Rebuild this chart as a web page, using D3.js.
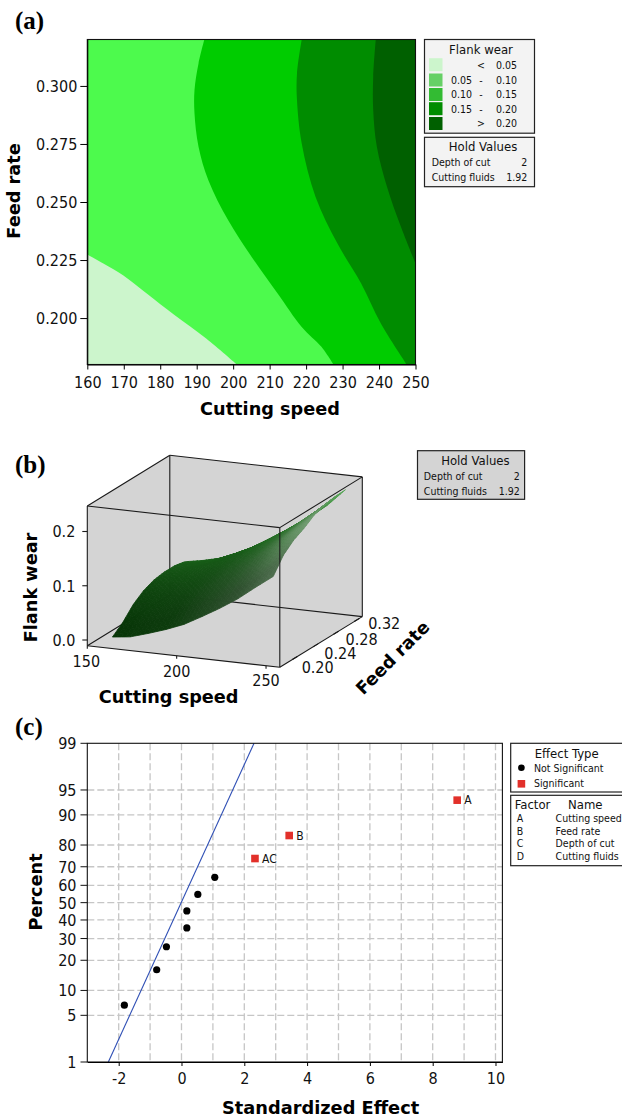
<!DOCTYPE html>
<html><head><meta charset="utf-8">
<script src="https://d3js.org/d3.v7.min.js"></script>
<style>
html,body{margin:0;padding:0;background:#fff}
svg{display:block}
text{font-family:"DejaVu Sans Condensed","DejaVu Sans";fill:#111}
.ttl{font-family:"DejaVu Sans";font-weight:700;fill:#000}
.pan{font-family:"Liberation Serif";font-weight:700;fill:#000}
.tick text{font-family:"DejaVu Sans Condensed","DejaVu Sans";font-size:16px;fill:#111}
</style></head><body>
<svg id="c" width="622" height="1117"></svg>
<script>
// ---------- panel (a): contour boundaries [cutting speed, feed rate]
const speedDomainA=[160,250], feedDomainA=[0.18,0.32];
const speedTicksA=[160,170,180,190,200,210,220,230,240,250];
const feedTicksA=[0.200,0.225,0.250,0.275,0.300];
const bandColors=["#ccf5cc","#4dfa4d","#00cc00","#008c00","#006000"];
const legendColors=["#ccf5cc","#66d066","#33bb33","#008c00","#006000"];
const legendLow=["","0.05","0.10","0.15",""];
const legendSep=["<","-","-","-",">"];
const legendHigh=["0.05","0.10","0.15","0.20","0.20"];
const boundary05=[[160,.2274],[164.4,.2235],[169.8,.2185],[176.3,.2106],[183.9,.2013],[192.6,.1912],[201,.18]];
const boundary10=[[192.1,.32],[190.5,.3097],[189.4,.2982],[189.4,.2881],[190.5,.2738],[193.2,.2594],[198.6,.2422],[205.7,.2249],[212.2,.2106],[218.8,.1962],[224.2,.1876],[227.5,.18]];
const boundary15=[[218.8,.32],[217.5,.3054],[217.5,.2939],[218.8,.2752],[222.6,.2522],[228.6,.2321],[235.1,.2149],[240.5,.1977],[247.6,.18]];
const boundary20=[[239.1,.32],[238.4,.3039],[238.4,.2896],[239.4,.2738],[242.2,.2565],[246,.2393],[250,.2235]];
// ---------- panel (b): surface, wear by feed rate (rows) and cutting speed (columns)
const surfSpeeds=[160,170,180,190,200,210,220,230,240,250];
const surfFeeds=[.32,.30,.28,.26,.24,.22,.20,.18];
const surfWear=[
[.058,.064,.072,.086,.102,.123,.144,.166,.192,.224],
[.062,.069,.078,.091,.106,.124,.145,.168,.194,.223],
[.062,.070,.080,.092,.106,.123,.143,.166,.192,.219],
[.059,.067,.077,.088,.102,.118,.137,.160,.186,.213],
[.051,.059,.069,.081,.095,.111,.129,.150,.175,.200],
[.037,.045,.056,.068,.082,.098,.116,.136,.161,.190],
[.016,.026,.038,.050,.064,.080,.098,.118,.143,.174],
[.001,.005,.015,.026,.039,.057,.076,.097,.122,.146]];
const boxSpeed=[150,257.7], boxFeed=[.166,.326], boxWear=[-.0105,.247];
const speedTicksB=[150,200,250], feedTicksB=[.20,.24,.28,.32], wearTicksB=[0,.1,.2];
const holdNames=["Depth of cut","Cutting fluids"], holdVals=["2","1.92"];
// ---------- panel (c): normal plot of effects
const effectTicksX=[-2,0,2,4,6,8,10];
const effectGrid=[-2,-1,0,1,2,3,4,5,6,7,8,9,10];
const percentTicks=[1,5,10,20,30,40,50,60,70,80,90,95,99];
const nsEffects=[-1.82,-.79,-.48,.17,.17,.52,1.06];
const nsPercent=[6.73,16.35,25.96,35.58,45.19,54.81,64.42];
const sigEffects=[2.34,3.43,8.78];
const sigPercent=[74.04,83.65,93.27];
const sigLabels=["AC","B","A"];
const lineEffects=[-2.33,2.31], linePercent=[1,99];
const factorLetters=["A","B","C","D"];
const factorNames=["Cutting speed","Feed rate","Depth of cut","Cutting fluids"];

const svg=d3.select("#c");
const T=(x,y,s,o={})=>svg.append("text").attr("x",x).attr("y",y).text(s)
  .attr("text-anchor",o.a||"start").attr("font-size",o.f||10.5).attr("class",o.c||null)
  .attr("transform",o.r!=null?`rotate(${o.r} ${x} ${y})`:null);
const box=(x0,y0,x1,y1,fill)=>svg.append("rect").attr("x",x0).attr("y",y0).attr("width",x1-x0).attr("height",y1-y0)
  .attr("fill",fill).attr("stroke","#222").attr("stroke-width",1.2);

["(a)","(b)","(c)"].forEach((s,i)=>T(15,[29,473,735][i],s,{c:"pan",f:25}));

// ===== (a)
const ax=d3.scaleLinear().domain(speedDomainA).range([87.3,415.5]);
const ay=d3.scaleLinear().domain(feedDomainA).range([364.5,39.5]);
const gA=svg.append("g");
gA.append("rect").attr("x",ax(160)).attr("y",ay(.32)).attr("width",ax(250)-ax(160)).attr("height",ay(.18)-ay(.32)).attr("fill",bandColors[0]);
const curved=d3.line().x(d=>ax(d[0])).y(d=>ay(d[1])).curve(d3.curveCatmullRom);
[[boundary05,[[250,.18],[250,.32],[160,.32]]],[boundary10,[[250,.18],[250,.32]]],[boundary15,[[250,.18],[250,.32]]],[boundary20,[[250,.32]]]]
 .forEach(([b,c],i)=>gA.append("path").attr("d",curved(b)+c.map(d=>`L${ax(d[0])},${ay(d[1])}`).join("")+"Z").attr("fill",bandColors[i+1]));
gA.append("rect").attr("x",ax(160)).attr("y",ay(.32)).attr("width",ax(250)-ax(160)).attr("height",ay(.18)-ay(.32)).attr("fill","none").attr("stroke","#111").attr("stroke-width",1.1);
const axA=svg.append("g").attr("transform",`translate(0,${ay(.18)})`).call(d3.axisBottom(ax).tickValues(speedTicksA).tickSize(5).tickSizeOuter(0));
axA.selectAll("text").attr("dy",".95em");
const ayA=svg.append("g").attr("transform",`translate(${ax(160)},0)`).call(d3.axisLeft(ay).tickValues(feedTicksA).tickFormat(d3.format(".3f")).tickSize(7).tickSizeOuter(0));
T(270,415,"Cutting speed",{a:"middle",c:"ttl",f:17.7});
T(19.5,191,"Feed rate",{a:"middle",c:"ttl",f:17.7,r:-90});
box(424.5,39.5,534.5,133.2,"#f3f3f3");
T(481,53.5,"Flank wear",{a:"middle",f:13});
[64.7,80,94.5,108.7,123.5].forEach((y,i)=>{
  svg.append("rect").attr("x",429).attr("y",y-6.5).attr("width",13.5).attr("height",13).attr("fill",legendColors[i]);
  if(legendLow[i])T(472,y+3.8,legendLow[i],{a:"end"});
  T(481,y+3.8,legendSep[i],{a:"middle"});
  T(517,y+3.8,legendHigh[i],{a:"end"});
});
box(424.5,137.3,534.5,186.7,"#f3f3f3");
T(483,150.5,"Hold Values",{a:"middle",f:13});
holdNames.forEach((n,i)=>{const y=[165.7,180.7][i];T(431.7,y,n);T(527.3,y,holdVals[i],{a:"end"});});

// ===== (b)
const sX=d3.scaleLinear().domain(boxSpeed).range([0,192.5]), sY=d3.scaleLinear().domain(boxSpeed).range([0,21.6]);
const fX=d3.scaleLinear().domain(boxFeed).range([0,82.5]), fY=d3.scaleLinear().domain(boxFeed).range([0,-50.7]);
const zY=d3.scaleLinear().domain(boxWear).range([0,-139.7]);
const P=(s,f,z)=>[87.3+sX(s)+fX(f),645.7+sY(s)+fY(f)+zY(z)];
const S0=boxSpeed[0],S1=boxSpeed[1],F0=boxFeed[0],F1=boxFeed[1],Z0=boxWear[0],Z1=boxWear[1];
const seg=(a,b)=>svg.append("line").attr("x1",a[0]).attr("y1",a[1]).attr("x2",b[0]).attr("y2",b[1]).attr("stroke","#1a1a1a").attr("stroke-width",1.1);
svg.append("path").attr("d",d3.line()([P(S0,F0,Z0),P(S0,F0,Z1),P(S0,F1,Z1),P(S1,F1,Z1),P(S1,F1,Z0),P(S1,F0,Z0)])+"Z").attr("fill","#d4d4d4");
seg(P(S0,F1,Z0),P(S0,F1,Z1));seg(P(S0,F1,Z0),P(S1,F1,Z0));seg(P(S0,F1,Z0),P(S0,F0,Z0));
// surface
const highFeedTone=d3.scaleLinear().domain([0,.45,.8,1]).range(["#1a601a","#1b661b","#318431","#5aaa5a"]);
const lowFeedTone=d3.scaleLinear().domain([0,.35,.75,1]).range(["#073507","#0e3c0e","#2f502f","#4f6f4f"]);
const gS=svg.append("g");
const sub=4;
const wAt=(i,j)=>surfWear[i][j];
for(let i=0;i<surfFeeds.length-1;i++)for(let a=0;a<sub;a++){
 for(let j=0;j<surfSpeeds.length-1;j++)for(let b=0;b<sub;b++){
  const corners=[[a,b],[a,b+1],[a+1,b+1],[a+1,b]].map(([u,v])=>{
    const tu=u/sub,tv=v/sub;
    const s=surfSpeeds[j]+(surfSpeeds[j+1]-surfSpeeds[j])*tv, f=surfFeeds[i]+(surfFeeds[i+1]-surfFeeds[i])*tu;
    const z=(1-tu)*((1-tv)*wAt(i,j)+tv*wAt(i,j+1))+tu*((1-tv)*wAt(i+1,j)+tv*wAt(i+1,j+1));
    return P(s,f,z);
  });
  const sN=(j+(b+.5)/sub)/(surfSpeeds.length-1), fN=(i+(a+.5)/sub)/(surfFeeds.length-1);
  const mix=Math.min(1,Math.max(0,fN*1.1));
  let col=d3.interpolateRgb(highFeedTone(sN),lowFeedTone(sN))(mix);
  const hi=Math.pow(Math.max(0,(sN-.55)/.45),2)*Math.max(0,1-Math.abs(fN-.5)*2.4);
  col=d3.interpolateRgb(col,"#739d73")(Math.min(1,hi));
  gS.append("path").attr("d",d3.line()(corners)+"Z").attr("fill",col).attr("stroke",col).attr("stroke-width",.8);
 }
}
// front edges
[[P(S0,F0,Z1),P(S1,F0,Z1)],[P(S1,F0,Z1),P(S1,F1,Z1)],[P(S0,F0,Z1),P(S0,F1,Z1)],[P(S0,F1,Z1),P(S1,F1,Z1)],
 [P(S0,F0,Z0),P(S0,F0,Z1)],[P(S1,F0,Z0),P(S1,F0,Z1)],[P(S1,F1,Z0),P(S1,F1,Z1)],
 [P(S0,F0,Z0),P(S1,F0,Z0)],[P(S1,F0,Z0),P(S1,F1,Z0)]].forEach(e=>seg(e[0],e[1]));
speedTicksB.forEach((s,i)=>{const p=P(s,F0,Z0);seg(p,[p[0],p[1]+3]);
  T(p[0]+[-1,0,0][i],p[1]+[21,21,20][i],s,{a:"middle",f:16});});
const feedDx=[4.3,6.3,7,9], feedDy=[16,15.5,14,10];
feedTicksB.forEach((f,i)=>{const p=P(S1,f,Z0);seg(p,[p[0]-5,p[1]+3]);T(p[0]+feedDx[i],p[1]+feedDy[i],d3.format(".2f")(f),{f:16});});
wearTicksB.forEach(z=>{const p=P(S0,F0,z);seg(p,[p[0]-5,p[1]]);T(p[0]-12,p[1]+6,d3.format(".1f")(z),{a:"end",f:16});});
T(168.6,703,"Cutting speed",{a:"middle",c:"ttl",f:17.7});
T(37,587.5,"Flank wear",{a:"middle",c:"ttl",f:17.7,r:-90});
T(397,662,"Feed rate",{a:"middle",c:"ttl",f:17.7,r:-45});
box(417.5,450.7,524.6,499.3,"#d4d4d4");
T(475.4,465.3,"Hold Values",{a:"middle",f:13});
holdNames.forEach((n,i)=>{const y=[480,495][i];T(423.8,y,n);T(519.8,y,holdVals[i],{a:"end"});});

// ===== (c)
function probit(p){ // Abramowitz & Stegun 26.2.23
  const q=p<.5?p:1-p,t=Math.sqrt(-2*Math.log(q));
  const z=t-(2.515517+.802853*t+.010328*t*t)/(1+1.432788*t+.189269*t*t+.001308*t*t*t);
  return p<.5?-z:z;
}
const cx=d3.scaleLinear().domain([-3,10.22]).range([87.3,502.4]);
const zs=d3.scaleLinear().domain([probit(.01),probit(.99)]).range([1062,743.3]);
const cy=p=>zs(probit(p/100));
const grid=svg.append("g").attr("stroke","#c6c6c6").attr("stroke-width",1.3).attr("stroke-dasharray","7 3");
effectGrid.forEach(v=>grid.append("line").attr("x1",cx(v)).attr("x2",cx(v)).attr("y1",743.3).attr("y2",1062));
percentTicks.filter(p=>p!==1&&p!==99).forEach(p=>grid.append("line").attr("x1",87.3).attr("x2",502.4).attr("y1",cy(p)).attr("y2",cy(p)));
svg.append("path").attr("d",d3.line()(lineEffects.map((e,i)=>[cx(e),cy(linePercent[i])]))).attr("stroke","#2f4fb5").attr("stroke-width",1.1).attr("fill","none");
svg.append("rect").attr("x",87.3).attr("y",743.3).attr("width",415.1).attr("height",318.7).attr("fill","none").attr("stroke","#111").attr("stroke-width",1.1);
const axC=svg.append("g").attr("transform","translate(0,1062)").call(d3.axisBottom(cx).tickValues(effectTicksX).tickFormat(d=>String(d)).tickSize(4).tickSizeOuter(0));
axC.selectAll("text").attr("dy",".95em");
const gY=svg.append("g");
percentTicks.forEach(p=>{
  gY.append("line").attr("x1",80.5).attr("x2",87.3).attr("y1",cy(p)).attr("y2",cy(p)).attr("stroke","#111");
  T(76.5,cy(p)+6,p,{a:"end",f:16});
});
nsEffects.forEach((e,i)=>svg.append("circle").attr("cx",cx(e)).attr("cy",cy(nsPercent[i])).attr("r",3.6).attr("fill","#000"));
sigEffects.forEach((e,i)=>{
  svg.append("rect").attr("x",cx(e)-3.8).attr("y",cy(sigPercent[i])-3.8).attr("width",7.6).attr("height",7.6).attr("fill","#e2302a");
  T(cx(e)+7,cy(sigPercent[i])+4,sigLabels[i],{f:12});
});
T(320.6,1113.5,"Standardized Effect",{a:"middle",c:"ttl",f:17.8});
T(42,892,"Percent",{a:"middle",c:"ttl",f:17.7,r:-90});
box(510.7,743.3,640,792,"#fff");
T(566.7,757.5,"Effect Type",{a:"middle",f:13});
svg.append("circle").attr("cx",521.4).attr("cy",767.7).attr("r",3.3).attr("fill","#000");
svg.append("rect").attr("x",517.6).attr("y",780).attr("width",7.6).attr("height",7.6).attr("fill","#e2302a");
T(534,771.7,"Not Significant");T(534,787,"Significant");
box(510.7,795.3,640,865.7,"#fff");
T(514.7,809,"Factor",{f:13});T(568,809,"Name",{f:13});
factorLetters.forEach((l,i)=>{const y=[822,835,847,860][i];T(516.7,y,l);T(555.6,y,factorNames[i]);});
</script></body></html>
